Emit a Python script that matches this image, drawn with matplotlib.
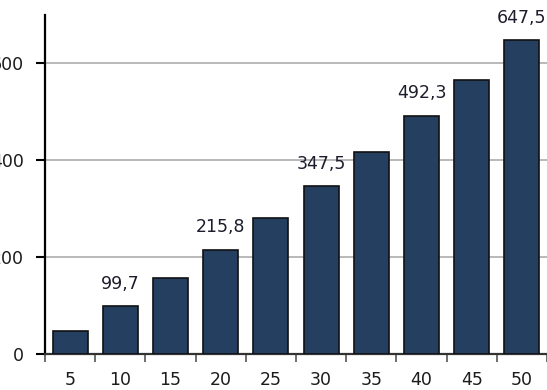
import numpy as np
import matplotlib.pyplot as plt

categories = ['5', '10', '15', '20', '25', '30', '35', '40', '45', '50']
values = [48.7, 99.7, 157.0, 215.8, 281.0, 347.5, 418.0, 492.3, 566.0, 647.5]
labelled = ['10', '20', '30', '40', '50']
y_ticks = [0, 200, 400, 600]

fig = plt.figure(figsize=(5.47, 3.9), dpi=100)
ax = fig.add_axes([45 / 547, 35.7 / 390, 502 / 547, 339.3 / 390])

x = np.arange(len(categories))
ax.bar(x, values, width=0.7, color='#243f60', edgecolor='#111111', linewidth=1.2, zorder=3)

ax.set_xlim(-0.5, len(categories) - 0.5)
ax.set_ylim(0, 700)

# labels on every other bar, decimal comma
for xi, cat, v in zip(x, categories, values):
    if cat in labelled:
        ax.annotate(f'{v:.1f}'.replace('.', ','), (xi, v), xytext=(0, 12.5),
                    textcoords='offset points', ha='center', va='baseline',
                    fontsize=12.5, color='#1c1c2c', annotation_clip=False)

ax.set_xticks(x)
ax.set_xticklabels(categories)
ax.set_xticks(np.arange(len(categories) + 1) - 0.5, minor=True)
ax.tick_params(axis='x', which='major', length=0, pad=12, labelsize=12.5, labelcolor='#1c1c1c')
ax.tick_params(axis='x', which='minor', length=6, width=1.2, color='#555555', direction='out')

ax.set_yticks(y_ticks)
ax.tick_params(axis='y', length=6.5, width=1.5, pad=8.5, labelsize=12.5, labelcolor='#1c1c1c')

ax.grid(axis='y', color='#a6a6a6', linewidth=1.1, zorder=0)
ax.set_axisbelow(True)

for side in ['top', 'right']:
    ax.spines[side].set_visible(False)
ax.spines['left'].set_linewidth(1.6)
ax.spines['bottom'].set_linewidth(1.6)
ax.spines['bottom'].set_color('#333333')

fig.savefig('out.png', dpi=100)
